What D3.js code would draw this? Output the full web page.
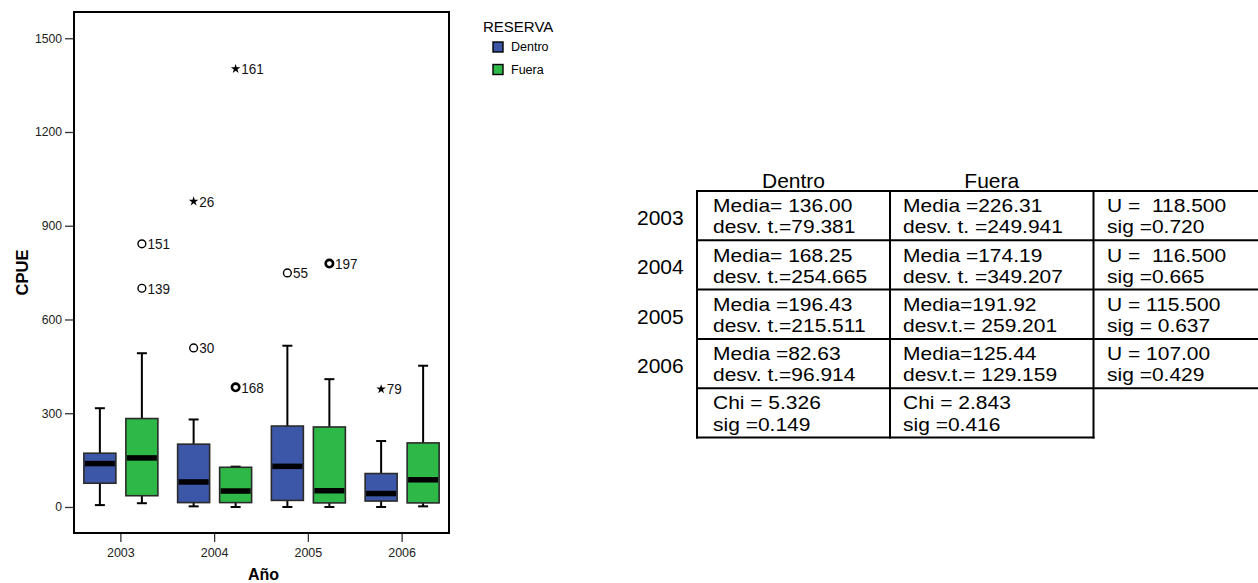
<!DOCTYPE html>
<html><head><meta charset="utf-8">
<script src="https://cdn.jsdelivr.net/npm/d3@7"></script>
<style>
body{margin:0;background:#fff}
svg text{font-family:"Liberation Sans",Arial,Helvetica,sans-serif}
</style>
</head><body>
<svg id="c" width="1258" height="583"></svg>
<script>
// ---------- data ----------
const years = ["2003","2004","2005","2006"];
const groups = ["Dentro","Fuera"];
const legendTitle = "RESERVA";
const dentroLow    = [6, 2, 0, 0];
const dentroQ1     = [76, 14, 21, 19];
const dentroMedian = [139, 80, 130, 43];
const dentroQ3     = [172, 201, 259, 107];
const dentroHigh   = [316, 280, 516, 211];
const fueraLow     = [12, 0, 0, 2];
const fueraQ1      = [36, 14, 13, 13];
const fueraMedian  = [157, 51, 52, 87];
const fueraQ3      = [283, 127, 256, 205];
const fueraHigh    = [492, 129, 409, 452];
const outlierYears  = ["2004","2004","2005","2006","2003","2003","2004","2004","2005"];
const outlierGroups = ["Dentro","Dentro","Dentro","Dentro","Fuera","Fuera","Fuera","Fuera","Fuera"];
const outlierValues = [509, 978, 749, 377, 842, 700, 383, 1402, 779];
const outlierLabels = ["30","26","55","79","151","139","168","161","197"];
const outlierTypes  = ["circle","star","circle","star","circle","circle","double","star","double"];
const yTicks = [0, 300, 600, 900, 1200, 1500];
const xTitle = "Año", yTitle = "CPUE";

const tableHeaders = ["Dentro","Fuera"];
const tableYears = ["2003","2004","2005","2006"];
const dentroCells = [["Media= 136.00","desv. t.=79.381"],["Media= 168.25","desv. t.=254.665"],["Media =196.43","desv. t.=215.511"],["Media =82.63","desv. t.=96.914"]];
const fueraCells  = [["Media =226.31","desv. t. =249.941"],["Media =174.19","desv. t. =349.207"],["Media=191.92","desv.t.= 259.201"],["Media=125.44","desv.t.= 129.159"]];
const testCells   = [["U =  118.500","sig =0.720"],["U =  116.500","sig =0.665"],["U = 115.500","sig = 0.637"],["U = 107.00","sig =0.429"]];
const chiCells    = [["Chi = 5.326","sig =0.149"],["Chi = 2.843","sig =0.416"]];

// ---------- layout ----------
const colors = {Dentro:"#3d57a8", Fuera:"#2eb848"};
const svg = d3.select("#c");
const L = 74, R = 449, T = 12, B = 533;

const x = d3.scaleBand().domain(years).range([L, R]);
const bw = x.bandwidth();
const x1 = d3.scaleBand().domain(groups).range([bw/2 - 37, bw/2 + 37]).paddingInner(10/42);
const y = d3.scaleLinear().domain([-83.3, 1584]).range([B, T]);

const stats = [];
years.forEach((yr, i) => {
  stats.push({year: yr, group: "Dentro", low: dentroLow[i], q1: dentroQ1[i], med: dentroMedian[i], q3: dentroQ3[i], high: dentroHigh[i]});
  stats.push({year: yr, group: "Fuera", low: fueraLow[i], q1: fueraQ1[i], med: fueraMedian[i], q3: fueraQ3[i], high: fueraHigh[i]});
});
const cx = d => x(d.year) + x1(d.group) + x1.bandwidth()/2;

// axes
const yAxis = d3.axisLeft(y).tickValues(yTicks).tickFormat(d3.format("d")).tickSize(9).tickPadding(3);
const gy = svg.append("g").attr("transform", `translate(${L},0)`).call(yAxis);
gy.select(".domain").remove();
gy.selectAll(".tick line").attr("stroke","#333").attr("stroke-width",1.3);
gy.selectAll(".tick text").attr("fill","#222").style("font-size","12.2px").style("font-family","'Liberation Sans',Arial,sans-serif");

const xAxis = d3.axisBottom(x).tickSize(9).tickPadding(6);
const gx = svg.append("g").attr("transform", `translate(0,${B})`).call(xAxis);
gx.select(".domain").remove();
gx.selectAll(".tick line").attr("stroke","#333").attr("stroke-width",1.3);
gx.selectAll(".tick text").attr("fill","#222").style("font-size","12.5px").style("font-family","'Liberation Sans',Arial,sans-serif");

// whiskers
const g = svg.append("g");
g.selectAll("line.wv").data(stats).join("line").attr("class","wv")
  .attr("x1", cx).attr("x2", cx).attr("y1", d => y(d.low)).attr("y2", d => y(d.high))
  .attr("stroke","#000").attr("stroke-width",2);
g.selectAll("line.wh").data(stats).join("line").attr("class","wh")
  .attr("x1", d => cx(d)-5).attr("x2", d => cx(d)+5).attr("y1", d => y(d.high)).attr("y2", d => y(d.high))
  .attr("stroke","#000").attr("stroke-width",2);
g.selectAll("line.wl").data(stats).join("line").attr("class","wl")
  .attr("x1", d => cx(d)-5).attr("x2", d => cx(d)+5).attr("y1", d => y(d.low)).attr("y2", d => y(d.low))
  .attr("stroke","#000").attr("stroke-width",2);
// boxes
g.selectAll("rect.box").data(stats).join("rect").attr("class","box")
  .attr("x", d => x(d.year) + x1(d.group)).attr("width", x1.bandwidth())
  .attr("y", d => y(d.q3)).attr("height", d => y(d.q1) - y(d.q3))
  .attr("fill", d => colors[d.group]).attr("stroke","#2a2a2a").attr("stroke-width",1.6);
// medians
g.selectAll("line.med").data(stats).join("line").attr("class","med")
  .attr("x1", d => x(d.year) + x1(d.group) + 1).attr("x2", d => x(d.year) + x1(d.group) + x1.bandwidth() - 1)
  .attr("y1", d => y(d.med)).attr("y2", d => y(d.med))
  .attr("stroke","#000").attr("stroke-width",5.5);

// outliers
const outliers = outlierValues.map((v,i) => ({year: outlierYears[i], group: outlierGroups[i], value: v, label: outlierLabels[i], type: outlierTypes[i]}));
const og = svg.append("g");
og.selectAll("circle").data(outliers.filter(d => d.type !== "star")).join("circle")
  .attr("cx", cx).attr("cy", d => y(d.value)).attr("r", d => d.type === "double" ? 3.7 : 3.9)
  .attr("fill","none").attr("stroke","#000").attr("stroke-width", d => d.type === "double" ? 2.6 : 1.4);
og.selectAll("path").data(outliers.filter(d => d.type === "star")).join("path")
  .attr("d", d3.symbol().type(d3.symbolStar).size(28))
  .attr("transform", d => `translate(${cx(d)},${y(d.value)})`).attr("fill","#000");
og.selectAll("text").data(outliers).join("text")
  .attr("transform", d => `translate(${cx(d) + 5.5},${y(d.value)}) scale(1,1.09)`).attr("dy","0.36em")
  .style("font-size","13.5px").attr("fill","#111").text(d => d.label);

// frame
svg.append("rect").attr("x",L).attr("y",T).attr("width",R-L).attr("height",B-T)
  .attr("fill","none").attr("stroke","#000").attr("stroke-width",2);

// axis titles
svg.append("text").attr("x",(L+R)/2+2).attr("y",580).attr("text-anchor","middle")
  .style("font-size","16px").style("font-weight","bold").text(xTitle);
svg.append("text").attr("transform",`translate(28,${(T+B)/2}) rotate(-90)`).attr("text-anchor","middle")
  .style("font-size","16.5px").style("font-weight","bold").text(yTitle);

// legend
const lg = svg.append("g");
lg.append("text").attr("x",483).attr("y",31.5).style("font-size","15px").text(legendTitle);
lg.selectAll("rect").data(groups).join("rect")
  .attr("x",493).attr("y",(d,i) => 42 + i*22.5).attr("width",10).attr("height",10)
  .attr("fill", d => colors[d]).attr("stroke","#000").attr("stroke-width",1.4);
lg.selectAll("text.li").data(groups).join("text").attr("class","li")
  .attr("x",511).attr("y",(d,i) => 51 + i*22.5).style("font-size","12.5px").text(d => d);

// ---------- table ----------
const tL = 697, c1 = 890, c2 = 1093.5, tR = 1262, tT = 191, rowH = 49.3;
const FS = 18.2, SX = 21 / 18.2;
const rowY = d3.scaleLinear().domain([0, 5]).range([tT, tT + 5*rowH]);
const tg = svg.append("g").attr("fill","#000");
const colX = [tL, c1, c2];
function put(t, xx, yy, anchor, fs, sx){
  return tg.append("text").attr("transform", `translate(${xx},${yy}) scale(${sx},1)`)
    .style("font-size", fs + "px")
    .attr("text-anchor", anchor || "start").style("white-space","pre").text(t);
}
tableHeaders.forEach((h,i) => put(h, (colX[i] + colX[i+1])/2, 187.5, "middle", 21, 1));
tableYears.forEach((yr,i) => put(yr, 637, rowY(i) + rowH/2 + 9.5, "start", 21, 1));
[dentroCells, fueraCells, testCells].forEach((arr, c) => {
  const left = [713, 903, 1107][c];
  arr.forEach((pair, r) => pair.forEach((t, k) => put(t, left, rowY(r) + (k === 0 ? 21.2 : 42.3), "start", FS, SX)));
});
chiCells.forEach((pair, j) => pair.forEach((t, k) => put(t, [713, 903][j], rowY(4) + (k === 0 ? 21.2 : 42.3), "start", FS, SX)));

const lines = [];
for (let r = 0; r <= 4; r++) lines.push([tL, rowY(r), tR, rowY(r)]);
lines.push([tL, rowY(5), c2, rowY(5)]);
[tL, c1, c2].forEach(xx => lines.push([xx, tT, xx, rowY(5)]));
svg.append("g").selectAll("line").data(lines).join("line")
  .attr("x1", d => d[0]).attr("y1", d => d[1]).attr("x2", d => d[2]).attr("y2", d => d[3])
  .attr("stroke","#000").attr("stroke-width",2).attr("stroke-linecap","square");
</script>
</body></html>
